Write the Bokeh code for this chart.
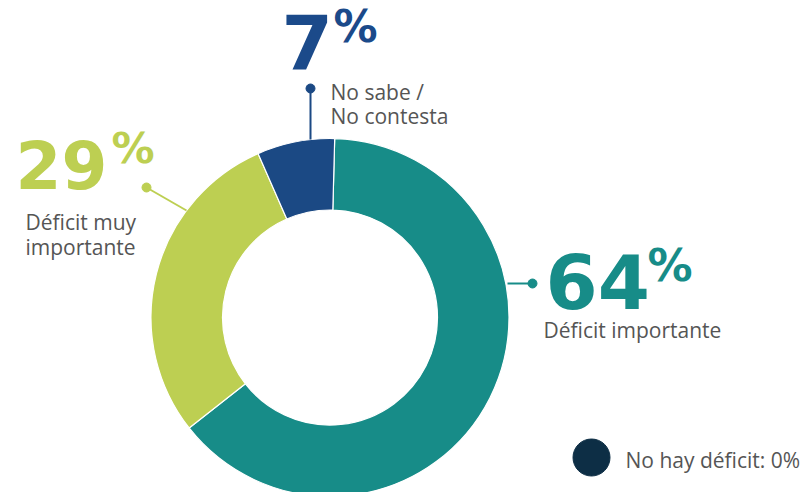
import math
from bokeh.plotting import figure
from bokeh.models import Range1d, ColumnDataSource
from bokeh.core.properties import value
from bokeh.embed import file_html
from bokeh.resources import INLINE

# ---- data ----
categories = ["Déficit importante", "Déficit muy importante", "No sabe / No contesta"]
values = [64, 29, 7]
colors = ["#178C88", "#BDCF52", "#1B4984"]
number_labels = ["64", "29", "7"]
legend_extra = "No hay déficit: 0%"

# ---- figure in image pixel coordinates (y flipped) ----
W, H = 809, 492
def Y(img_y):
    return H - img_y

p = figure(width=W, height=H, output_backend="svg", toolbar_location=None,
           x_range=Range1d(0, W), y_range=Range1d(0, H),
           min_border=0, outline_line_color=None)
p.axis.visible = False
p.grid.visible = False
p.background_fill_color = "white"
p.border_fill_color = "white"

cx, cy = 329.5, 317
r_in, r_out = 107.5, 179
offset = math.radians(1.5)
total = sum(values)
starts, ends = [], []
cum = 0
for v in values:
    starts.append(math.pi / 2 - offset - 2 * math.pi * cum / total)
    cum += v
    ends.append(math.pi / 2 - offset - 2 * math.pi * cum / total)

src = ColumnDataSource(dict(x=[cx] * len(values), y=[Y(cy)] * len(values),
                            start=starts, end=ends, color=colors, cat=categories))
p.annular_wedge(x="x", y="y", inner_radius=r_in, outer_radius=r_out,
                start_angle="start", end_angle="end", direction="clock",
                fill_color="color", line_color="white", line_width=1.2, source=src)

# ---- connectors ----
p.line([507, 532], [Y(283), Y(283)], line_color=colors[0], line_width=2)
p.scatter([532], [Y(283)], size=9, color=colors[0])
p.line([146, 186], [Y(187), Y(210)], line_color=colors[1], line_width=2)
p.scatter([146], [Y(187)], size=9, color=colors[1])
p.line([310, 310], [Y(88), Y(139)], line_color=colors[2], line_width=2)
p.scatter([310], [Y(88)], size=9, color=colors[2])

num_font = value("DejaVu Sans")
lab_font = value("Open Sans")
gray = "#555555"

def big(x, y, txt, size, color):
    p.text([x], [Y(y - 0.36 * size)], text=[txt], text_font=num_font, text_font_style="bold",
           text_font_size=f"{size}px", text_color=color, text_baseline="alphabetic",
           text_align="left")

def lab(x, y, txt, size=21):
    p.text([x], [Y(y - 0.33 * size)], text=[txt], text_font=lab_font, text_font_size=f"{size}px",
           text_color=gray, text_baseline="alphabetic", text_align="left")

# 64%
big(545, 308, number_labels[0], 75, colors[0])
big(647, 281, "%", 45, colors[0])
lab(543, 336, categories[0])
# 29%
big(15, 188, number_labels[1], 66, colors[1])
big(111, 163, "%", 43, colors[1])
lab(25, 228, "Déficit muy")
lab(25, 253, "importante")
# 7%
big(281, 68, number_labels[2], 74, "#1B4A8A")
big(333, 42, "%", 44, "#1B4A8A")
lab(330, 98, "No sabe /")
lab(330, 122, "No contesta")

# legend-like note
p.scatter([591], [Y(457)], size=37, color="#0D2E45")
lab(625, 466, legend_extra)

open("out.html", "w").write(file_html(p, INLINE))
